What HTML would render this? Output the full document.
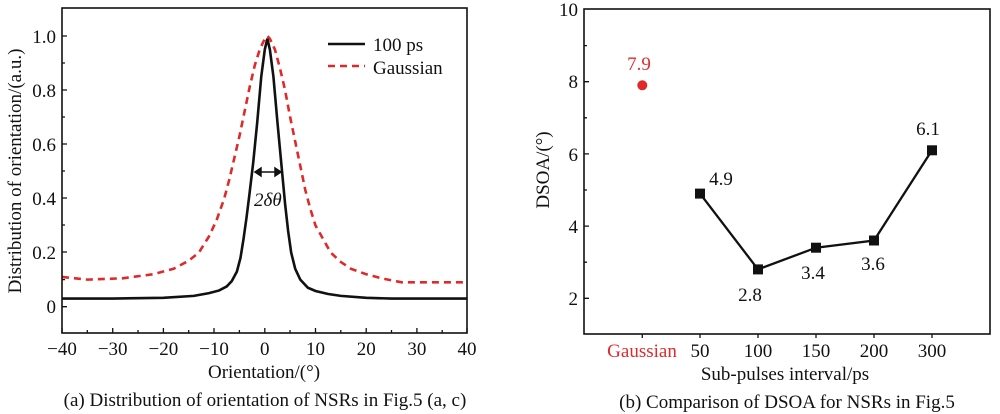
<!DOCTYPE html>
<html><head><meta charset="utf-8"><style>
body{margin:0;background:#fff}
svg{display:block;font-family:"Liberation Serif",serif}
</style></head><body>
<svg width="1000" height="414" viewBox="0 0 1000 414">
<!-- Left chart -->
<g transform="translate(264.8,306.7) scale(5.07,-270.7)" fill="none">
<polyline vector-effect="non-scaling-stroke" stroke="#e02a2a" stroke-width="2.6" stroke-dasharray="7,5"
points="-40,.11 -35,.1 -28,.105 -22,.12 -18,.14 -15,.17 -13,.2 -11,.26 -9.5,.32 -8,.4 -7,.47 -6,.55 -5,.63 -4,.72 -3,.81 -2,.89 -1,.95 0,.99 0.5,1.0 1,.99 2,.95 3,.88 4,.8 5,.7 6,.61 7,.52 8,.43 9,.36 10,.3 11.5,.25 13,.2 15,.165 17,.14 20,.12 23,.105 27,.09 40,.09"/>
<polyline vector-effect="non-scaling-stroke" stroke="#111" stroke-width="2.6"
points="-40,.03 -30,.03 -20,.033 -14,.04 -11,.05 -9,.06 -7.5,.075 -6.5,.095 -5.5,.13 -4.8,.18 -4.2,.25 -3.6,.33 -3,.42 -2.3,.53 -1.5,.68 -0.7,.85 0,.95 0.5,.99 1,.95 1.7,.85 2.5,.68 3.4,.5 4,.38 4.6,.28 5.2,.2 6,.14 7,.1 8.5,.07 10,.058 12.5,.047 15,.04 20,.033 25,.03 40,.03"/>
</g>
<rect x="62" y="8" width="405" height="325" fill="none" stroke="#111" stroke-width="1.6"/>
<g stroke="#111" stroke-width="1.3">
<path d="M62,306.7h5M62,279.6h3M62,252h5M62,225h3M62,198h5M62,171h3M62,144h5M62,117h3M62,90h5M62,63h3M62,36h5"/>
<path d="M62,333v-5M87.3,333v-3M112.7,333v-5M138,333v-3M163.4,333v-5M188.7,333v-3M214,333v-5M239.4,333v-3M264.8,333v-5M290,333v-3M315.5,333v-5M340.8,333v-3M366.2,333v-5M391.5,333v-3M416.9,333v-5M442.2,333v-3M467,333v-5"/>
</g>
<g font-size="19" fill="#111" text-anchor="end">
<text x="56" y="313">0</text><text x="56" y="259">0.2</text><text x="56" y="205">0.4</text><text x="56" y="151">0.6</text><text x="56" y="97">0.8</text><text x="56" y="43">1.0</text>
</g>
<g font-size="19" fill="#111" text-anchor="middle">
<text x="62" y="355">−40</text><text x="112.7" y="355">−30</text><text x="163.4" y="355">−20</text><text x="214" y="355">−10</text><text x="264.8" y="355">0</text><text x="315.5" y="355">10</text><text x="366.2" y="355">20</text><text x="416.9" y="355">30</text><text x="467" y="355">40</text>
<text x="264" y="378">Orientation/(°)</text>
<text x="265" y="406">(a) Distribution of orientation of NSRs in Fig.5 (a, c)</text>
<text transform="translate(21,171) rotate(-90)">Distribution of orientation/(a.u.)</text>
</g>
<path d="M328,44h37" stroke="#111" stroke-width="2.6"/>
<path d="M328,66h37" stroke="#e02a2a" stroke-width="2.6" stroke-dasharray="7,5"/>
<g font-size="19" fill="#111"><text x="373" y="51">100 ps</text><text x="373" y="74">Gaussian</text></g>
<g stroke="#111" stroke-width="1.5" fill="#111">
<path d="M256,172H280"/>
<path d="M255,172l6,-4v8z M281,172l-6,-4v8z"/>
</g>
<text x="254" y="206" font-size="19" font-style="italic" fill="#111">2δθ</text>

<!-- Right chart -->
<rect x="584" y="9" width="406" height="325" fill="none" stroke="#111" stroke-width="1.6"/>
<g stroke="#111" stroke-width="1.3">
<path d="M584,298.3h5M584,262.2h3M584,226.1h5M584,190h3M584,153.9h5M584,117.8h3M584,81.7h5M584,45.6h3"/>
<path d="M642.3,334v4M700,334v4M758,334v4M816,334v4M874,334v4M932,334v4"/>
</g>
<g font-size="19" fill="#111" text-anchor="end">
<text x="578" y="305">2</text><text x="578" y="233">4</text><text x="578" y="161">6</text><text x="578" y="88">8</text><text x="578" y="16">10</text>
</g>
<g font-size="19" fill="#111" text-anchor="middle">
<text x="642" y="357" fill="#e02a2a">Gaussian</text><text x="700" y="357">50</text><text x="758" y="357">100</text><text x="816" y="357">150</text><text x="874" y="357">200</text><text x="932" y="357">300</text>
<text x="785" y="380">Sub-pulses interval/ps</text>
<text x="787" y="408">(b) Comparison of DSOA for NSRs in Fig.5</text>
<text transform="translate(549,170) rotate(-90)">DSOA/(°)</text>
</g>
<polyline points="700,193.6 758,269.4 816,247.7 874,240.5 932,150.3" fill="none" stroke="#111" stroke-width="2.3"/>
<g fill="#111">
<rect x="695" y="188.6" width="10" height="10"/><rect x="753" y="264.4" width="10" height="10"/><rect x="811" y="242.7" width="10" height="10"/><rect x="869" y="235.5" width="10" height="10"/><rect x="927" y="145.3" width="10" height="10"/>
</g>
<circle cx="642.3" cy="85.3" r="5" fill="#e02a2a"/>
<g font-size="19" fill="#111" text-anchor="middle">
<text x="721" y="185">4.9</text><text x="750" y="301">2.8</text><text x="813" y="279">3.4</text><text x="873" y="270">3.6</text><text x="928" y="135">6.1</text>
<text x="639" y="70" fill="#e02a2a">7.9</text>
</g>
</svg>
</body></html>
